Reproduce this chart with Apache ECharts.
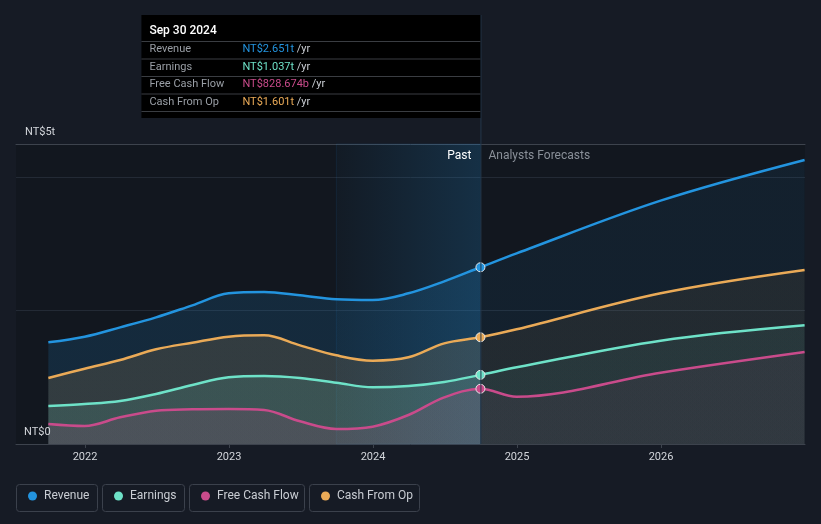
<!DOCTYPE html>
<html>
<head>
<meta charset="utf-8">
<script src="https://cdn.jsdelivr.net/npm/echarts@6/dist/echarts.min.js"></script>
<style>
html,body{margin:0;padding:0;background:#161b25;}
#c{width:821px;height:524px;}
</style>
</head>
<body>
<div id="c"></div>
<script>
// ---- data (NT$ trillions) ----
const dates = ['2021-09-30','2021-12-31','2022-03-31','2022-06-30','2022-09-30','2022-12-31','2023-03-31','2023-06-30','2023-09-30','2023-12-31','2024-03-31','2024-06-30','2024-09-30','2024-12-31','2025-12-31','2026-12-31'];
const revenue  = [1.525,1.61,1.75,1.90,2.08,2.26,2.28,2.23,2.17,2.16,2.26,2.44,2.651,2.86,3.65,4.26];
const earnings = [0.57,0.60,0.645,0.75,0.885,1.00,1.02,0.99,0.92,0.85,0.87,0.93,1.037,1.15,1.55,1.78];
const fcf      = [0.30,0.27,0.40,0.50,0.52,0.525,0.51,0.34,0.225,0.26,0.435,0.70,0.828674,0.71,1.07,1.38];
const cfo      = [0.99,1.13,1.26,1.42,1.52,1.61,1.63,1.48,1.33,1.25,1.30,1.51,1.601,1.72,2.26,2.61];
const yearTicks = [2022, 2023, 2024, 2025, 2026];
const xStart = '2021-07-10', xEnd = '2027-01-01';
const pastIndex = 12;          // Sep 30 2024: last reported point
const bandStart = 8;           // Sep 30 2023: start of highlighted last year
const tipTitle = 'Sep 30 2024';

const names = {rev:'Revenue', earn:'Earnings', fcf:'Free Cash Flow', cfo:'Cash From Op'};
const colors = {rev:'#2394df', earn:'#6ee2c8', fcf:'#c94b8b', cfo:'#eaaa57'};

// date string -> fractional year
function fy(s){
  const d = Date.parse(s + 'T00:00:00Z');
  const y = new Date(d).getUTCFullYear();
  const a = Date.UTC(y,0,1), b = Date.UTC(y+1,0,1);
  return y + (d - a) / (b - a);
}
const X = dates.map(fy);
const x0 = X[0], x1 = X[X.length-1], xp = X[pastIndex];
const frac = (xp - x0) / (x1 - x0);

function rgba(hex, a){
  const n = parseInt(hex.slice(1),16);
  return 'rgba(' + (n>>16 & 255) + ',' + (n>>8 & 255) + ',' + (n & 255) + ',' + a + ')';
}
function areaGrad(hex, aPast, aFut){
  return {type:'linear', x:0, y:0, x2:1, y2:0, colorStops:[
    {offset:0, color:rgba(hex,aPast)}, {offset:frac, color:rgba(hex,aPast)},
    {offset:frac, color:rgba(hex,aFut)}, {offset:1, color:rgba(hex,aFut)}]};
}
function fmt(v){
  return v >= 1 ? 'NT$' + v.toFixed(3) + 't' : 'NT$' + (v*1000).toFixed(3) + 'b';
}
function mkSeries(key, vals, aPast, aFut, extra){
  const c = colors[key];
  const data = vals.map((v,i) => {
    if (i === pastIndex) {
      return {value:[X[i], v], symbol:'circle', symbolSize:9,
        itemStyle:{color:c, borderColor:'#e8e8e8', borderWidth:1}};
    }
    return [X[i], v];
  });
  return Object.assign({
    name: names[key], type:'line', data: data, smooth:0.35,
    symbol:'none', showSymbol:true, color:c,
    lineStyle:{width:2.5, color:c},
    areaStyle:{color: areaGrad(c, aPast, aFut), origin:'start'},
    emphasis:{disabled:true}
  }, extra || {});
}

const chart = echarts.init(document.getElementById('c'), null, {renderer:'canvas'});
const FONT = 'Roboto, "Noto Sans", sans-serif';

const option = {
  backgroundColor:'#161b25',
  animation:false,
  textStyle:{fontFamily:FONT},
  grid:{left:16, right:16, top:144, bottom:80, show:true, backgroundColor:'#12171f', borderWidth:0},
  xAxis:[{
    type:'value', min:fy(xStart), max:fy(xEnd),
    axisLine:{lineStyle:{color:'#3d434d', width:1}},
    axisTick:{show:true, customValues: yearTicks, length:4, lineStyle:{color:'#3d434d'}},
    axisLabel:{customValues: yearTicks, color:'#d3d6db', fontSize:11, margin:8,
      formatter: v => String(Math.round(v))},
    splitLine:{show:false}
  },{
    type:'value', position:'top', min:fy(xStart), max:fy(xEnd),
    axisLine:{show:true, lineStyle:{color:'#3d434d', width:1}},
    axisTick:{show:false}, axisLabel:{show:false}, splitLine:{show:false}
  }],
  yAxis:{
    type:'value', min:0, max:4.5, interval:2,
    axisLine:{show:false}, axisTick:{show:false}, axisLabel:{show:false},
    splitLine:{lineStyle:{color:'#232a35', width:1}}
  },
  legend:{
    left:28, top:489, padding:0, itemGap:10, itemWidth:9, itemHeight:9, icon:'circle',
    selectedMode:false,
    data:[names.rev, names.earn, names.fcf, names.cfo],
    formatter: n => '{w' + [names.rev, names.earn, names.fcf, names.cfo].indexOf(n) + '|' + n + '}',
    textStyle:{color:'#c9cdd3', fontSize:12, lineHeight:14, fontFamily:FONT,
      rich:{
        w0:{width:60, padding:[0,0,0,2], color:'#c9cdd3', fontSize:12},
        w1:{width:61, padding:[0,0,0,2], color:'#c9cdd3', fontSize:12},
        w2:{width:94, padding:[0,0,0,2], color:'#c9cdd3', fontSize:12},
        w3:{width:90, padding:[0,0,0,2], color:'#c9cdd3', fontSize:12}
      }}
  },
  series:[
    mkSeries('rev', revenue, 0.22, 0.11),
    mkSeries('cfo', cfo, 0.2, 0.1),
    mkSeries('earn', earnings, 0.2, 0.1),
    mkSeries('fcf', fcf, 0.17, 0.08, {
      markArea:{silent:true,
        itemStyle:{color:{type:'linear', x:0, y:0, x2:1, y2:0, colorStops:[
          {offset:0, color:'rgba(35,148,223,0.03)'}, {offset:1, color:'rgba(35,148,223,0.2)'}]},
          borderColor:'rgba(35,148,223,0.1)', borderWidth:1},
        data:[[{xAxis:X[bandStart]}, {xAxis:X[pastIndex]}]]
      }
    })
  ]
};
chart.setOption(option);

// ---- overlays positioned from the axis scale ----
const px = chart.convertToPixel({xAxisIndex:0}, xp);
const yBottom = chart.convertToPixel({yAxisIndex:0}, 0);
const boxW = 339, boxTop = 15, boxH = 103;
const boxL = px - boxW;
const rows = [
  {label:names.rev,  key:'rev',  v:revenue[pastIndex]},
  {label:names.earn, key:'earn', v:earnings[pastIndex]},
  {label:names.fcf,  key:'fcf',  v:fcf[pastIndex]},
  {label:names.cfo,  key:'cfo',  v:cfo[pastIndex]}
];
const g = [];
g.push({type:'line', silent:true, z:5, shape:{x1:px+0.5, y1:boxTop, x2:px+0.5, y2:yBottom},
  style:{stroke:'#24374b', lineWidth:1}});
g.push({type:'rect', silent:true, z:10, shape:{x:boxL, y:boxTop, width:boxW, height:boxH},
  style:{fill:'#000000'}});
g.push({type:'text', silent:true, z:11, x:boxL+8, y:31,
  style:{text:tipTitle, fill:'#ffffff', font:'500 12px ' + FONT, verticalAlign:'middle'}});
const sepY = [41, 58.5, 76, 93.5, 111];
sepY.forEach(y => g.push({type:'line', silent:true, z:11,
  shape:{x1:boxL, y1:y+0.5, x2:boxL+boxW, y2:y+0.5}, style:{stroke:'#3a3d42', lineWidth:1}}));
rows.forEach((r,i) => {
  const y = 49.5 + i*17.5;
  g.push({type:'text', silent:true, z:11, x:boxL+8, y:y,
    style:{text:r.label, fill:'#9a9fa6', font:'11px ' + FONT, verticalAlign:'middle'}});
  g.push({type:'text', silent:true, z:11, x:boxL+101, y:y,
    style:{text:'{v|' + fmt(r.v) + '}{u| /yr}', verticalAlign:'middle', font:'11px ' + FONT,
      rich:{v:{fill:colors[r.key], font:'11px ' + FONT}, u:{fill:'#c9cdd3', font:'11px ' + FONT}}}});
});
g.push({type:'text', silent:true, z:6, x:px-9, y:156,
  style:{text:'Past', fill:'#ffffff', font:'12px ' + FONT, align:'right', verticalAlign:'middle'}});
g.push({type:'text', silent:true, z:6, x:px+8, y:156,
  style:{text:'Analysts Forecasts', fill:'#8a9099', font:'12px ' + FONT, align:'left', verticalAlign:'middle'}});
g.push({type:'text', silent:true, z:6, x:25, y:132,
  style:{text:'NT$5t', fill:'#d3d6db', font:'11px ' + FONT, verticalAlign:'middle'}});
g.push({type:'text', silent:true, z:6, x:24, y:432,
  style:{text:'NT$0', fill:'#d3d6db', font:'11px ' + FONT, verticalAlign:'middle'}});
[[16,81],[102,82],[189,115],[309,110]].forEach(b => g.push({type:'rect', silent:true, z:1,
  shape:{x:b[0]+0.5, y:484.5, width:b[1], height:27, r:3},
  style:{fill:'none', stroke:'#3b414c', lineWidth:1}}));
chart.setOption({graphic:g});
</script>
</body>
</html>
